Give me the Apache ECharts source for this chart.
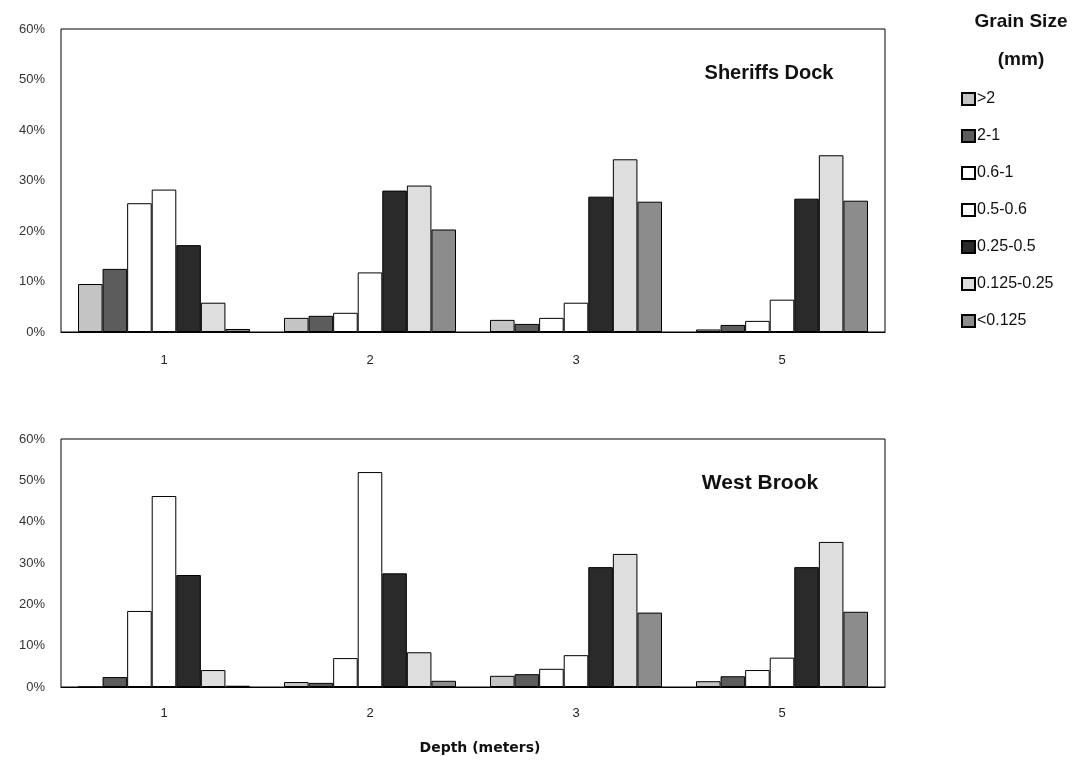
<!DOCTYPE html>
<html>
<head>
<meta charset="utf-8">
<script src="https://cdn.jsdelivr.net/npm/echarts@6/dist/echarts.min.js"></script>
<style>html,body{margin:0;padding:0;background:#fff;}#c{width:1089px;height:761px;}</style>
</head>
<body>
<div id="c"></div>
<script>
const depths = ['1', '2', '3', '5'];
const grainSizes = ['>2', '2-1', '0.6-1', '0.5-0.6', '0.25-0.5', '0.125-0.25', '<0.125'];
const yTicks = ['0%', '10%', '20%', '30%', '40%', '50%', '60%'];
// Sheriffs Dock, percent per grain size class, one array per size, values at depths 1,2,3,5
const sheriffs_gt2     = [9.5, 2.8, 2.4, 0.5];
const sheriffs_2_1     = [12.5, 3.2, 1.6, 1.4];
const sheriffs_06_1    = [25.5, 3.8, 2.8, 2.2];
const sheriffs_05_06   = [28.2, 11.8, 5.8, 6.4];
const sheriffs_025_05  = [17.2, 28.0, 26.8, 26.4];
const sheriffs_0125_025= [5.8, 29.0, 34.2, 35.0];
const sheriffs_lt0125  = [0.6, 20.3, 25.8, 26.0];
// West Brook
const west_gt2     = [0.0, 1.2, 2.7, 1.4];
const west_2_1     = [2.4, 1.0, 3.1, 2.6];
const west_06_1    = [18.4, 7.0, 4.4, 4.1];
const west_05_06   = [46.2, 52.0, 7.7, 7.1];
const west_025_05  = [27.1, 27.5, 29.0, 29.0];
const west_0125_025= [4.1, 8.4, 32.2, 35.1];
const west_lt0125  = [0.3, 1.5, 18.0, 18.2];

const sheriffs = [sheriffs_gt2, sheriffs_2_1, sheriffs_06_1, sheriffs_05_06, sheriffs_025_05, sheriffs_0125_025, sheriffs_lt0125];
const west = [west_gt2, west_2_1, west_06_1, west_05_06, west_025_05, west_0125_025, west_lt0125];
const fills = ['#c4c4c4', '#5c5c5c', '#ffffff', '#ffffff', '#2a2a2a', '#dedede', '#8c8c8c'];

const chart = echarts.init(document.getElementById('c'));
const font = 'Arial, "Liberation Sans", sans-serif';

function makeSeries(data, gi) {
  return data.map((vals, i) => ({
    name: grainSizes[i],
    type: 'bar',
    xAxisIndex: gi,
    yAxisIndex: gi,
    data: vals,
    barGap: '0%',
    barCategoryGap: '16.5%',
    itemStyle: { color: fills[i], borderColor: '#000', borderWidth: 1 },
    emphasis: { disabled: true },
    animation: false
  }));
}

const xAxisBase = (gi, margin) => ({
  type: 'category',
  gridIndex: gi,
  data: depths,
  axisLine: { show: true, lineStyle: { color: '#000', width: 1 } },
  axisTick: { show: false },
  axisLabel: { color: '#222', fontSize: 13, fontFamily: font, margin: margin }
});
const yAxisBase = (gi) => ({
  type: 'value',
  gridIndex: gi,
  min: 0, max: 60, interval: 10,
  axisLine: { show: false },
  axisTick: { show: false },
  splitLine: { show: false },
  axisLabel: {
    color: '#333', fontSize: 13, fontFamily: font, margin: 16,
    formatter: v => yTicks[Math.round(v / 10)]
  }
});

chart.setOption({
  backgroundColor: '#fff',
  animation: false,
  title: [
    { text: 'Sheriffs Dock', left: 764, top: 58, textAlign: 'center',
      textStyle: { fontSize: 20, fontWeight: 'bold', color: '#111', fontFamily: font } },
    { text: 'West Brook', left: 755, top: 468, textAlign: 'center',
      textStyle: { fontSize: 21, fontWeight: 'bold', color: '#111', fontFamily: font } },
    { text: 'Grain Size', left: 1016, top: 7, textAlign: 'center',
      textStyle: { fontSize: 19, fontWeight: 'bold', color: '#111', fontFamily: font } },
    { text: '(mm)', left: 1016, top: 45, textAlign: 'center',
      textStyle: { fontSize: 19, fontWeight: 'bold', color: '#111', fontFamily: font } },
    { text: 'Depth (meters)', left: 475, top: 736, textAlign: 'center',
      textStyle: { fontSize: 14, fontWeight: 'bold', color: '#111', fontFamily: '"DejaVu Sans", sans-serif' } }
  ],
  legend: {
    orient: 'vertical',
    left: 956,
    top: 86,
    itemWidth: 13,
    itemHeight: 12,
    itemGap: 21,
    icon: 'rect',
    selectedMode: false,
    data: grainSizes,
    textStyle: { fontSize: 16, color: '#111', fontFamily: font, padding: [0, 0, 0, -3] }
  },
  grid: [
    { left: 61, top: 29, width: 824, height: 303, show: true, borderColor: '#000', borderWidth: 1, backgroundColor: 'transparent' },
    { left: 61, top: 439, width: 824, height: 248, show: true, borderColor: '#000', borderWidth: 1, backgroundColor: 'transparent' }
  ],
  xAxis: [xAxisBase(0, 22), xAxisBase(1, 20)],
  yAxis: [yAxisBase(0), yAxisBase(1)],
  series: [...makeSeries(sheriffs, 0), ...makeSeries(west, 1)]
});
</script>
</body>
</html>
